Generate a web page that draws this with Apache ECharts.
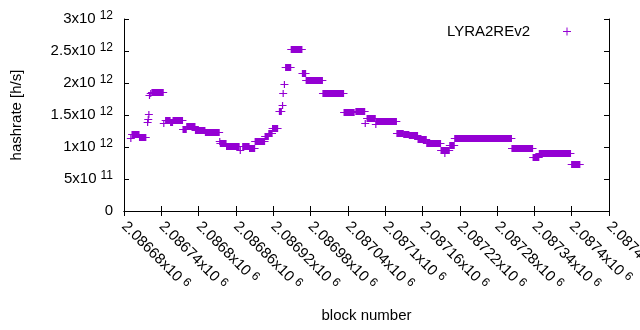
<!DOCTYPE html>
<html>
<head>
<meta charset="utf-8">
<script src="https://cdn.jsdelivr.net/npm/echarts@6/dist/echarts.min.js"></script>
<style>
html, body { margin: 0; padding: 0; background: #fff; }
#chart { width: 640px; height: 330px; }
</style>
</head>
<body>
<div id="chart"></div>
<script>
// runs of blocks that share the same hashrate: first block, last block, value
var runStart = [
    2086691, 2086693, 2086705, 2086718, 2086719, 2086720, 2086721, 2086723, 2086725, 2086744,
    2086747, 2086755, 2086759, 2086775, 2086781, 2086795, 2086811, 2086834, 2086835, 2086845,
    2086867, 2086871, 2086882, 2086891, 2086907, 2086913, 2086919, 2086930, 2086935, 2086936,
    2086938, 2086940, 2086949, 2086967, 2086973, 2087000, 2087034, 2087053, 2087068, 2087071,
    2087085, 2087086, 2087119, 2087130, 2087139, 2087153, 2087167, 2087190, 2087196, 2087204,
    2087212, 2087304, 2087338, 2087348, 2087400
];
var runEnd = [
    2086691, 2086704, 2086715, 2086718, 2086719, 2086720, 2086721, 2086723, 2086743, 2086744,
    2086754, 2086758, 2086774, 2086780, 2086794, 2086810, 2086833, 2086834, 2086844, 2086865,
    2086867, 2086881, 2086890, 2086906, 2086912, 2086918, 2086927, 2086933, 2086935, 2086936,
    2086938, 2086948, 2086966, 2086972, 2086999, 2087033, 2087050, 2087067, 2087068, 2087084,
    2087085, 2087118, 2087129, 2087138, 2087152, 2087166, 2087189, 2087203, 2087196, 2087211,
    2087303, 2087337, 2087347, 2087398, 2087413
];
var runHash = [
    1.135e12, 1.21e12, 1.16e12, 1.385e12, 1.44e12, 1.51e12, 1.81e12, 1.85e12, 1.86e12, 1.38e12,
    1.42e12, 1.39e12, 1.42e12, 1.28e12, 1.33e12, 1.265e12, 1.23e12, 1.10e12, 1.07e12, 1.02e12,
    0.95e12, 1.02e12, 0.99e12, 1.10e12, 1.17e12, 1.22e12, 1.30e12, 1.56e12, 1.66e12, 1.84e12,
    1.985e12, 2.25e12, 2.53e12, 2.15e12, 2.04e12, 1.84e12, 1.54e12, 1.56e12, 1.37e12, 1.46e12,
    1.355e12, 1.41e12, 1.22e12, 1.20e12, 1.18e12, 1.12e12, 1.055e12, 0.95e12, 0.90e12, 1.03e12,
    1.135e12, 0.98e12, 0.85e12, 0.90e12, 0.727e12
];

var seriesName = 'LYRA2REv2';
var xMin = 2086680, xMax = 2087460, xStep = 60;
var yMin = 0, yMax = 3e12, yStep = 5e11;

var purple = '#9400D3';
var fontName = 'Liberation Sans';

// gnuplot style "mantissa x10^exp" labels
function sciLabel(v) {
    if (v === 0) return '{b|0}';
    var e = Math.floor(Math.log10(Math.abs(v)) + 1e-9);
    var m = parseFloat((v / Math.pow(10, e)).toPrecision(6));
    return '{b|' + m + 'x10}{s|' + e + '}';
}

var richText = {
    b: { fontSize: 15, fontFamily: fontName, color: '#000', lineHeight: 18, verticalAlign: 'middle' },
    s: { fontSize: 12, fontFamily: fontName, color: '#000', verticalAlign: 'top', padding: [0, 0, 0, 4] }
};

var chart = echarts.init(document.getElementById('chart'), null, { renderer: 'canvas' });

var data = runStart.map(function(s, i) {
    return [s, runEnd[i], runHash[i]];
});

var option = {
    animation: false,
    color: [purple],
    textStyle: { fontFamily: fontName },
    grid: { left: 124, right: 31, top: 19, bottom: 119, containLabel: false, outerBoundsMode: 'none' },
    legend: {
        data: [{ name: seriesName, icon: 'path://M0,3.5h8v1h-8z M3.5,0h1v8h-1z' }],
        right: 69,
        top: 24,
        padding: 0,
        align: 'right',
        itemWidth: 8,
        itemHeight: 8,
        textStyle: { fontSize: 15, color: '#000', fontFamily: fontName, padding: [0, 28, 0, 0] }
    },
    xAxis: [
        {
            type: 'value', min: xMin, max: xMax, interval: xStep,
            name: 'block number', nameLocation: 'middle', nameGap: 97,
            nameTextStyle: { fontSize: 15, color: '#000', fontFamily: fontName },
            axisLine: { show: true, lineStyle: { color: '#000', width: 1 } },
            axisTick: { show: true, inside: true, length: 5, lineStyle: { color: '#000' } },
            splitLine: { show: false },
            axisLabel: {
                rotate: -45, margin: 13, hideOverlap: false, showMaxLabel: true,
                formatter: sciLabel, rich: richText
            }
        },
        {
            type: 'value', position: 'top', min: xMin, max: xMax, interval: xStep,
            axisLine: { show: true, lineStyle: { color: '#000', width: 1 } },
            axisTick: { show: true, inside: true, length: 5, lineStyle: { color: '#000' } },
            axisLabel: { show: false },
            splitLine: { show: false }
        }
    ],
    yAxis: [
        {
            type: 'value', min: yMin, max: yMax, interval: yStep,
            name: 'hashrate [h/s]', nameLocation: 'middle', nameGap: 100,
            nameTextStyle: { fontSize: 15, color: '#000', fontFamily: fontName },
            axisLine: { show: true, lineStyle: { color: '#000', width: 1 } },
            axisTick: { show: true, inside: true, length: 5, lineStyle: { color: '#000' } },
            splitLine: { show: false },
            axisLabel: { margin: 11, formatter: sciLabel, rich: richText }
        },
        {
            type: 'value', position: 'right', min: yMin, max: yMax, interval: yStep,
            axisLine: { show: true, lineStyle: { color: '#000', width: 1 } },
            axisTick: { show: true, inside: true, length: 5, lineStyle: { color: '#000' } },
            axisLabel: { show: false },
            splitLine: { show: false }
        }
    ],
    series: [
        {
            name: seriesName,
            type: 'custom',
            xAxisIndex: 0,
            yAxisIndex: 0,
            itemStyle: { color: purple },
            encode: { x: [0, 1], y: 2 },
            data: data,
            // every block is a "+" mark; a run of equal blocks looks like a filled bar
            renderItem: function(params, api) {
                var p0 = api.coord([api.value(0), api.value(2)]);
                var p1 = api.coord([api.value(1), api.value(2)]);
                var y = Math.round(p0[1]) + 0.5;
                return {
                    type: 'group',
                    children: [
                        {
                            type: 'rect',
                            shape: { x: p0[0] - 0.6, y: y - 3.5, width: p1[0] - p0[0] + 1.2, height: 7 },
                            style: { fill: purple }
                        },
                        {
                            type: 'line',
                            shape: { x1: p0[0] - 4, y1: y, x2: p1[0] + 4, y2: y },
                            style: { stroke: purple, lineWidth: 1 }
                        }
                    ]
                };
            }
        }
    ]
};

chart.setOption(option);
</script>
</body>
</html>
